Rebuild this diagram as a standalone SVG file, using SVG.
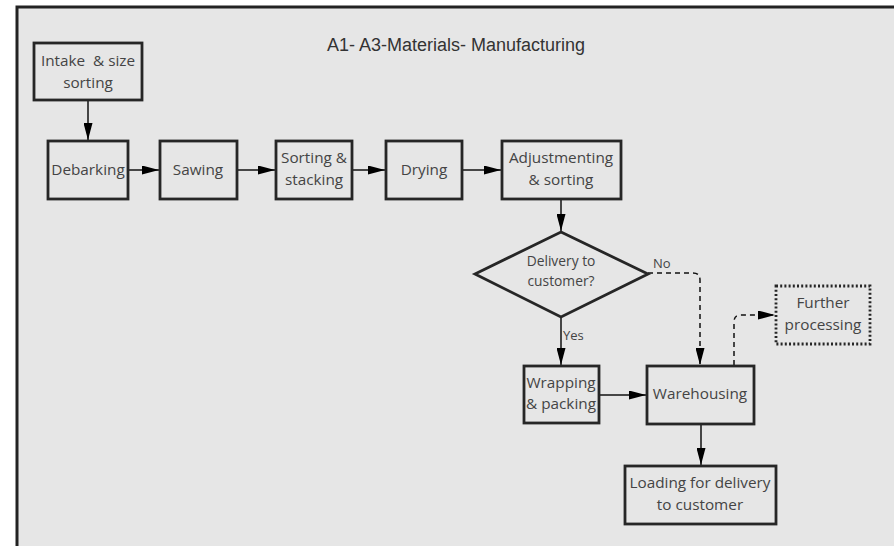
<svg xmlns="http://www.w3.org/2000/svg" width="894" height="546" viewBox="0 0 894 546">
<style>
.box{fill:#e6e6e6;stroke:#262626;stroke-width:2.8}
.dot{fill:#e6e6e6;stroke:#262626;stroke-width:2.8;stroke-dasharray:2 2.2}
.t{font-family:"Open Sans","Liberation Sans",sans-serif;font-size:15.3px;fill:#444;text-anchor:middle}
.s{font-family:"Open Sans","Liberation Sans",sans-serif;font-size:13.8px;fill:#444;text-anchor:middle}
.l{font-family:"Open Sans","Liberation Sans",sans-serif;font-size:13px;fill:#444}
.c{fill:none;stroke:#111;stroke-width:1.5}
.d{fill:none;stroke:#111;stroke-width:1.5;stroke-dasharray:5 4}
</style>
<defs>
<marker id="a" viewBox="0 0 17 9" refX="17" refY="4.5" markerWidth="17" markerHeight="9" markerUnits="userSpaceOnUse" orient="auto">
<path d="M0,0 L17,4.5 L0,9 Z" fill="#000"/>
</marker>
</defs>
<rect x="0" y="0" width="894" height="546" fill="#fff"/>
<rect x="17" y="7" width="890" height="560" fill="#e6e6e6" stroke="#222" stroke-width="3"/>
<text x="456" y="51" font-family="Liberation Sans,Arial,sans-serif" font-size="18" fill="#333" text-anchor="middle">A1- A3-Materials- Manufacturing</text>
<g id="connectors">
<path class="c" d="M88,101 V140" marker-end="url(#a)"/>
<path class="c" d="M129,170 H159" marker-end="url(#a)"/>
<path class="c" d="M238,170 H275" marker-end="url(#a)"/>
<path class="c" d="M353,170 H385" marker-end="url(#a)"/>
<path class="c" d="M463,170 H501" marker-end="url(#a)"/>
<path class="c" d="M561,200 V231" marker-end="url(#a)"/>
<path class="c" d="M561,318 V365" marker-end="url(#a)"/>
<path class="d" d="M648,273 H693 Q700,273 700,280 V365" marker-end="url(#a)"/>
<path class="c" d="M600,395 H646" marker-end="url(#a)"/>
<path class="d" d="M734,365 V322 Q734,315 741,315 H775" marker-end="url(#a)"/>
<path class="c" d="M701,425 V465" marker-end="url(#a)"/>
<text class="l" x="563" y="340">Yes</text>
<text class="l" x="653" y="268">No</text>
</g>
<g id="intake"><rect class="box" x="34" y="43" width="108" height="57"/><text class="t" x="88" y="66" xml:space="preserve">Intake  &amp; size</text><text class="t" x="88" y="88">sorting</text></g>
<g id="debarking"><rect class="box" x="48" y="141" width="80" height="58"/><text class="t" x="88" y="175">Debarking</text></g>
<g id="sawing"><rect class="box" x="160" y="141" width="77" height="58"/><text class="t" x="198" y="175">Sawing</text></g>
<g id="sorting"><rect class="box" x="276" y="141" width="76" height="58"/><text class="t" x="314" y="163">Sorting &amp;</text><text class="t" x="314" y="185">stacking</text></g>
<g id="drying"><rect class="box" x="386" y="141" width="76" height="58"/><text class="t" x="424" y="175">Drying</text></g>
<g id="adjust"><rect class="box" x="502" y="141" width="119" height="58"/><text class="t" x="561" y="163">Adjustmenting</text><text class="t" x="561" y="185">&amp; sorting</text></g>
<g id="decision"><polygon class="box" points="561,232 648,274 561,317 475,274"/><text class="s" x="561" y="266">Delivery to</text><text class="s" x="561" y="286">customer?</text></g>
<g id="wrapping"><rect class="box" x="524" y="366" width="75" height="57"/><text class="t" x="561" y="388">Wrapping</text><text class="t" x="561" y="409">&amp; packing</text></g>
<g id="warehousing"><rect class="box" x="647" y="366" width="107" height="58"/><text class="t" x="700" y="399">Warehousing</text></g>
<g id="further"><rect class="dot" x="776" y="286" width="94" height="58"/><text class="t" x="823" y="308">Further</text><text class="t" x="823" y="330">processing</text></g>
<g id="loading"><rect class="box" x="625" y="466" width="151" height="58"/><text class="t" x="700" y="488">Loading for delivery</text><text class="t" x="700" y="510">to customer</text></g>
</svg>
